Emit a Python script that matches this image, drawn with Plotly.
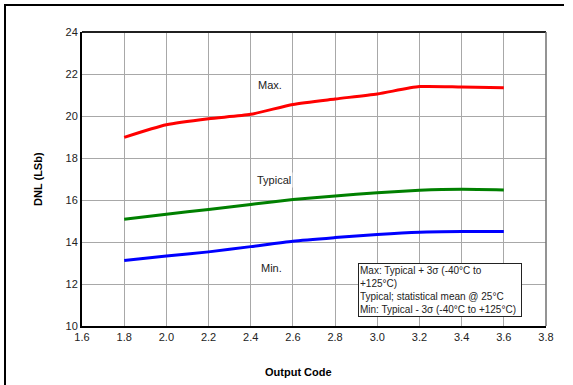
import plotly.graph_objects as go

# Data
output_code = [1.8, 2.0, 2.2, 2.4, 2.6, 2.8, 3.0, 3.2, 3.4, 3.6]
dnl_max = [18.98, 19.58, 19.87, 20.08, 20.55, 20.81, 21.05, 21.40, 21.38, 21.35]
dnl_typ = [15.08, 15.32, 15.55, 15.79, 16.02, 16.19, 16.35, 16.46, 16.51, 16.48]
dnl_min = [13.12, 13.33, 13.53, 13.78, 14.04, 14.21, 14.36, 14.47, 14.50, 14.50]

x_ticks = [1.6, 1.8, 2.0, 2.2, 2.4, 2.6, 2.8, 3.0, 3.2, 3.4, 3.6, 3.8]
y_ticks = [10, 12, 14, 16, 18, 20, 22, 24]

W, H = 573, 385
L, R, T, B = 82, 546, 32, 326
pw, ph = R - L, B - T


def px(x):
    return (x - L) / pw


def py(y):
    return (B - y) / ph


fig = go.Figure()
for ys, col, name in [(dnl_max, "#ff0000", "Max."), (dnl_typ, "#008000", "Typical"), (dnl_min, "#0000ff", "Min.")]:
    fig.add_trace(go.Scatter(x=output_code, y=ys, mode="lines", name=name,
                             line=dict(color=col, width=3, shape="spline", smoothing=0.6),
                             showlegend=False, hoverinfo="skip"))

font = dict(family="Arial, Liberation Sans, sans-serif", size=11, color="#222222")

fig.update_layout(
    width=W, height=H,
    margin=dict(l=L, r=W - R, t=T, b=H - B),
    paper_bgcolor="white", plot_bgcolor="white",
    font=font,
    xaxis=dict(range=[1.6, 3.8], tickvals=x_ticks, ticktext=[f"{v:.1f}" for v in x_ticks],
               showgrid=True, gridcolor="#a8a8a8", gridwidth=1,
               showline=True, linecolor="black", linewidth=2, ticks="", zeroline=False,
               tickfont=font),
    yaxis=dict(range=[10, 24], tickvals=y_ticks, ticktext=[str(v) for v in y_ticks],
               showgrid=True, gridcolor="#a8a8a8", gridwidth=1,
               showline=True, linecolor="black", linewidth=2, ticks="", zeroline=False,
               tickfont=font),
)

shapes = [
    # top and right of plot box
    dict(type="line", xref="paper", yref="paper", x0=0, x1=1, y0=1, y1=1,
         line=dict(color="#202020", width=2)),
    dict(type="line", xref="paper", yref="paper", x0=1, x1=1, y0=0, y1=1,
         line=dict(color="#707070", width=1.5)),
    # outer frame (top + left)
    dict(type="line", xref="paper", yref="paper", x0=px(4), x1=px(564), y0=py(5), y1=py(5),
         line=dict(color="black", width=2)),
    dict(type="line", xref="paper", yref="paper", x0=px(5), x1=px(5), y0=py(5), y1=py(390),
         line=dict(color="black", width=2)),
]
fig.update_layout(shapes=shapes)

bold = dict(family="Arial, Liberation Sans, sans-serif", size=11, color="black")
ann = [
    dict(text="<b>DNL (LSb)</b>", xref="paper", yref="paper", x=px(38), y=py(179),
         xanchor="center", yanchor="middle",
         showarrow=False, textangle=-90, font=bold),
    dict(text="<b>Output Code</b>", xref="paper", yref="paper", x=px(298), y=py(372),
         xanchor="center", yanchor="middle",
         showarrow=False, font=bold),
    dict(text="Max.", x=2.49, y=21.5, showarrow=False, font=font),
    dict(text="Typical", x=2.51, y=16.95, showarrow=False, font=font, bgcolor="white"),
    dict(text="Min.", x=2.50, y=12.75, showarrow=False, font=font),
    dict(text="Max: Typical + 3σ (-40°C to<br>+125°C)<br>Typical; statistical mean @ 25°C<br>Min: Typical - 3σ (-40°C to +125°C)",
         xref="paper", yref="paper", x=px(358), y=py(263), xanchor="left", yanchor="top",
         align="left", showarrow=False, bgcolor="white", bordercolor="#222222", borderwidth=1,
         borderpad=1, width=160,
         font=dict(family="Arial, Liberation Sans, sans-serif", size=10, color="#222222")),
]
fig.update_layout(annotations=ann)

fig.write_html("out.html", config={"displayModeBar": False, "staticPlot": True},
               post_script="document.body.style.margin='0';document.body.style.overflow='hidden';")
